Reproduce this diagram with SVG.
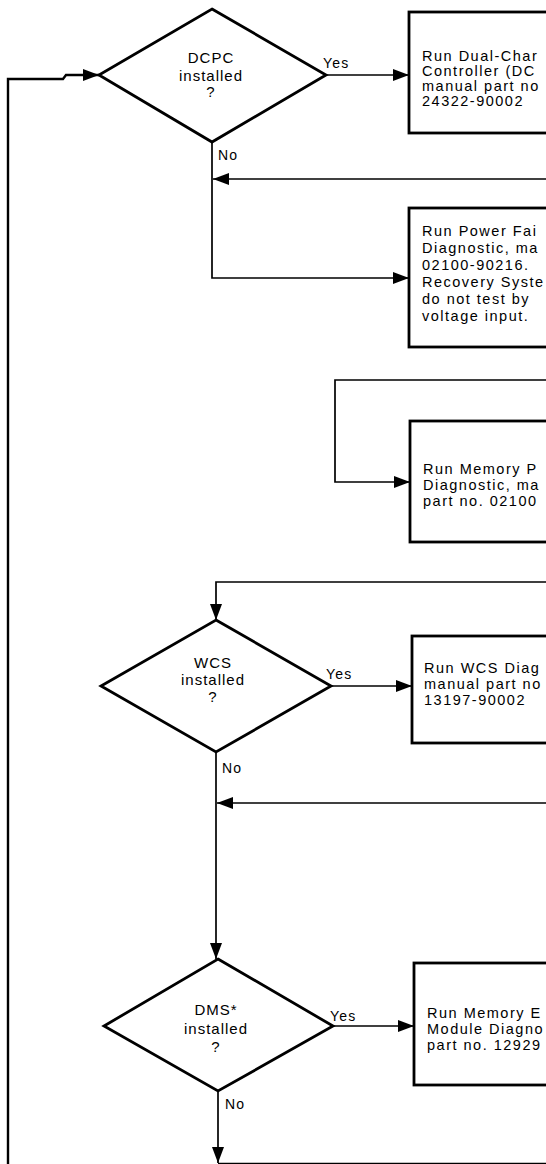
<svg xmlns="http://www.w3.org/2000/svg" width="546" height="1164" viewBox="0 0 546 1164">
<style>
.shape{fill:#fff;stroke:#000;stroke-width:2.8;stroke-linejoin:miter}
.conn{fill:none;stroke:#000;stroke-width:1.7}
.loop{fill:none;stroke:#000;stroke-width:2.4}
.t{font-family:"Liberation Sans",Arial,Helvetica,sans-serif;font-size:14.5px;letter-spacing:1.5px;fill:#000}
.d{font-family:"Liberation Sans",Arial,Helvetica,sans-serif;font-size:15px;letter-spacing:1px;fill:#000;text-anchor:middle}
.l{font-family:"Liberation Sans",Arial,Helvetica,sans-serif;font-size:14px;letter-spacing:1.2px;fill:#000}
</style>
<defs>
<marker id="ah" markerUnits="userSpaceOnUse" markerWidth="16" markerHeight="12" refX="16" refY="6" orient="auto">
<path d="M0,0 L16,6 L0,12 Z" fill="#000"/>
</marker>
</defs>
<rect width="546" height="1164" fill="#fff"/>
<g id="connectors">
<path class="loop" d="M8,1164 V79 H63 L66,75 H99" marker-end="url(#ah)"/>
<path class="conn" d="M326,75 H409" marker-end="url(#ah)"/>
<path class="conn" d="M212,142 V278 H409" marker-end="url(#ah)"/>
<path class="conn" d="M546,179 H213" marker-end="url(#ah)"/>
<path class="conn" d="M546,380 H335 V482 H410" marker-end="url(#ah)"/>
<path class="conn" d="M546,582 H216 V620" marker-end="url(#ah)"/>
<path class="conn" d="M331,686 H412" marker-end="url(#ah)"/>
<path class="conn" d="M216,752 V959" marker-end="url(#ah)"/>
<path class="conn" d="M546,803 H217" marker-end="url(#ah)"/>
<path class="conn" d="M333,1026 H414" marker-end="url(#ah)"/>
<path class="conn" d="M218,1091 V1163" marker-end="url(#ah)"/>
<path class="conn" d="M218,1163.5 H546" stroke-width="1"/>
<text class="l" x="323" y="68">Yes</text>
<text class="l" x="218" y="160">No</text>
<text class="l" x="326" y="679">Yes</text>
<text class="l" x="222" y="773">No</text>
<text class="l" x="330" y="1021">Yes</text>
<text class="l" x="225" y="1109">No</text>
</g>
<g id="dcpc">
<polygon class="shape" points="212,9 326,75 212,142 99,75"/>
<text class="d" x="211" y="63">DCPC</text>
<text class="d" x="211" y="81">installed</text>
<text class="d" x="211" y="97">?</text>
</g>
<g id="box-dcpc">
<rect class="shape" x="409" y="12" width="200" height="121"/>
<text class="t" x="422" y="61">Run Dual-Char</text>
<text class="t" x="422" y="76">Controller (DC</text>
<text class="t" x="422" y="91">manual part no</text>
<text class="t" x="422" y="106">24322-90002</text>
</g>
<g id="box-power">
<rect class="shape" x="409" y="208" width="200" height="139"/>
<text class="t" x="422" y="236">Run Power Fai</text>
<text class="t" x="422" y="253">Diagnostic, ma</text>
<text class="t" x="422" y="270">02100-90216.</text>
<text class="t" x="422" y="287">Recovery Syste</text>
<text class="t" x="422" y="304">do not test by</text>
<text class="t" x="422" y="321">voltage input.</text>
</g>
<g id="box-memprot">
<rect class="shape" x="410" y="421" width="200" height="121"/>
<text class="t" x="423" y="474">Run Memory P</text>
<text class="t" x="423" y="490">Diagnostic, ma</text>
<text class="t" x="423" y="506">part no. 02100</text>
</g>
<g id="wcs">
<polygon class="shape" points="216,620 331,686 216,752 101,686"/>
<text class="d" x="213" y="668">WCS</text>
<text class="d" x="213" y="685">installed</text>
<text class="d" x="213" y="702">?</text>
</g>
<g id="box-wcs">
<rect class="shape" x="412" y="636" width="200" height="107"/>
<text class="t" x="424" y="673">Run WCS Diag</text>
<text class="t" x="424" y="689">manual part no</text>
<text class="t" x="424" y="705">13197-90002</text>
</g>
<g id="dms">
<polygon class="shape" points="218,959 333,1026 218,1091 104,1026"/>
<text class="d" x="216" y="1015">DMS*</text>
<text class="d" x="216" y="1034">installed</text>
<text class="d" x="216" y="1052">?</text>
</g>
<g id="box-dms">
<rect class="shape" x="414" y="963" width="200" height="122"/>
<text class="t" x="427" y="1018">Run Memory E</text>
<text class="t" x="427" y="1034">Module Diagno</text>
<text class="t" x="427" y="1050">part no. 12929</text>
</g>
</svg>
